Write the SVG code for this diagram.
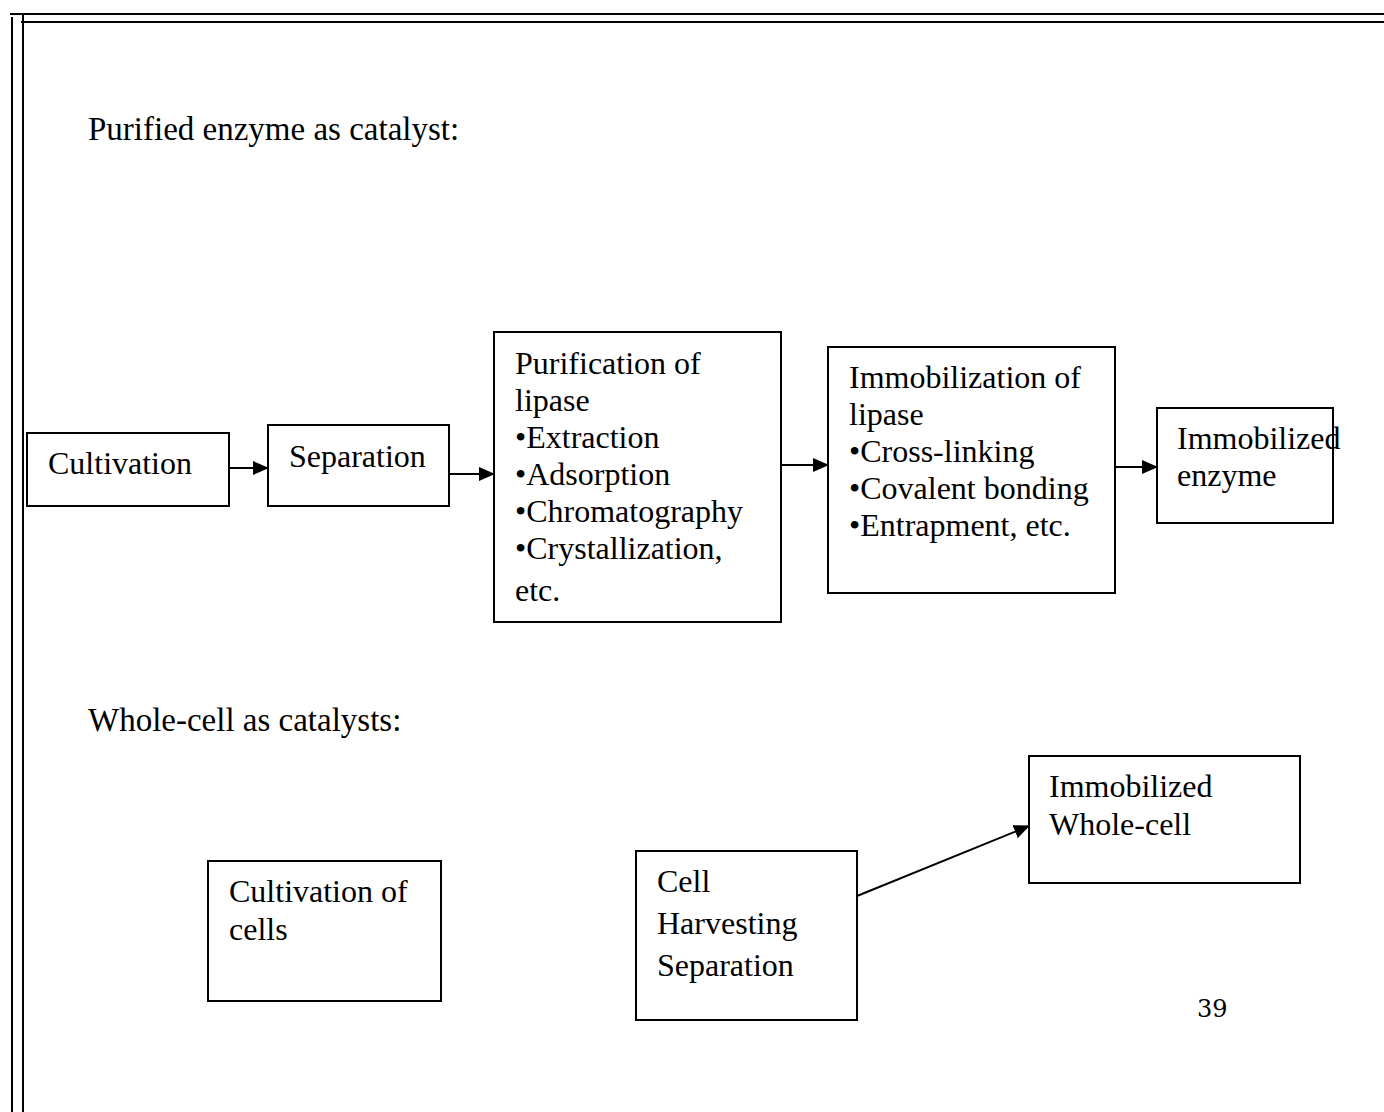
<svg xmlns="http://www.w3.org/2000/svg" width="1384" height="1112" viewBox="0 0 1384 1112">
<style>
text{font-family:"Liberation Serif","Times New Roman",serif;font-size:32px;fill:#000}
.hd{font-size:33px}
.box{fill:#fff;stroke:#000;stroke-width:2}
.ln{stroke:#000;stroke-width:2;fill:none}
.num{font-family:"DejaVu Serif",serif;font-size:24px}
</style>
<defs>
<marker id="ah2" markerWidth="16" markerHeight="14" refX="15" refY="7" orient="auto" markerUnits="userSpaceOnUse" viewBox="0 0 16 14">
<path d="M0,0 L16,7 L0,14 z" fill="#000"/>
</marker>
</defs>
<g id="page-border" class="ln">
<line x1="10" y1="14" x2="1384" y2="14"/>
<line x1="21" y1="22" x2="1384" y2="22"/>
<line x1="12" y1="17" x2="12" y2="1112"/>
<line x1="23" y1="14" x2="23" y2="1112"/>
</g>
<text class="hd" x="88" y="140">Purified enzyme as catalyst:</text>
<text class="hd" x="88" y="731">Whole-cell as catalysts:</text>
<g id="connectors">
<line class="ln" x1="223" y1="468" x2="268" y2="468" marker-end="url(#ah2)"/>
<line class="ln" x1="446" y1="474" x2="494" y2="474" marker-end="url(#ah2)"/>
<line class="ln" x1="781" y1="465" x2="828" y2="465" marker-end="url(#ah2)"/>
<line class="ln" x1="1115" y1="467" x2="1157" y2="467" marker-end="url(#ah2)"/>
<line class="ln" x1="857" y1="896" x2="1029" y2="826" marker-end="url(#ah2)"/>
</g>
<g id="cultivation">
<rect class="box" x="27" y="433" width="202" height="73"/>
<text x="48" y="474">Cultivation</text>
</g>
<g id="separation">
<rect class="box" x="268" y="425" width="181" height="81"/>
<text x="289" y="467">Separation</text>
</g>
<g id="purification">
<rect class="box" x="494" y="332" width="287" height="290"/>
<text x="515" y="374">Purification of</text>
<text x="515" y="411">lipase</text>
<text x="515" y="448">•Extraction</text>
<text x="515" y="485">•Adsorption</text>
<text x="515" y="522">•Chromatography</text>
<text x="515" y="559">•Crystallization,</text>
<text x="515" y="601">etc.</text>
</g>
<g id="immobilization">
<rect class="box" x="828" y="347" width="287" height="246"/>
<text x="849" y="388">Immobilization of</text>
<text x="849" y="425">lipase</text>
<text x="849" y="462">•Cross-linking</text>
<text x="849" y="499">•Covalent bonding</text>
<text x="849" y="536">•Entrapment, etc.</text>
</g>
<g id="immobilized-enzyme">
<rect class="box" x="1157" y="408" width="176" height="115"/>
<text x="1177" y="449">Immobilized</text>
<text x="1177" y="486">enzyme</text>
</g>
<g id="cultivation-of-cells">
<rect class="box" x="208" y="861" width="233" height="140"/>
<text x="229" y="902">Cultivation of</text>
<text x="229" y="940">cells</text>
</g>
<g id="cell-harvesting">
<rect class="box" x="636" y="851" width="221" height="169"/>
<text x="657" y="892">Cell</text>
<text x="657" y="934">Harvesting</text>
<text x="657" y="976">Separation</text>
</g>
<g id="immobilized-whole-cell">
<rect class="box" x="1029" y="756" width="271" height="127"/>
<text x="1049" y="797">Immobilized</text>
<text x="1049" y="835">Whole-cell</text>
</g>
<text class="num" x="1197" y="1017">39</text>
</svg>
